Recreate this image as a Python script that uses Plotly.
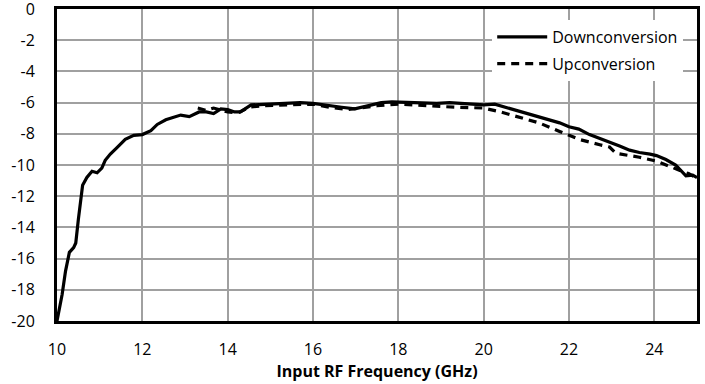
import plotly.graph_objects as go

down_freq = [10.0, 10.12, 10.2, 10.29, 10.39, 10.44, 10.5, 10.6, 10.7, 10.82, 10.94, 11.05, 11.13, 11.25,
             11.4, 11.6, 11.8, 12.0, 12.2, 12.35, 12.55, 12.8, 12.9, 13.1, 13.33, 13.5, 13.67, 13.84,
             14.0, 14.16, 14.3, 14.55, 15.0, 15.4, 15.7, 16.0, 16.35, 16.67, 16.98, 17.3, 17.6, 17.85,
             18.0, 18.3, 18.6, 18.9, 19.2, 19.5, 19.8, 20.0, 20.26, 20.57, 20.87, 21.17, 21.47, 21.78,
             22.0, 22.23, 22.48, 22.72, 22.95, 23.2, 23.42, 23.65, 23.9, 24.05, 24.27, 24.5, 24.74,
             24.9, 25.0]
down_gain = [-20.0, -18.3, -16.8, -15.6, -15.3, -15.0, -13.5, -11.3, -10.8, -10.4, -10.5, -10.2, -9.7, -9.3,
             -8.9, -8.35, -8.1, -8.05, -7.8, -7.4, -7.1, -6.9, -6.8, -6.9, -6.6, -6.6, -6.7, -6.4,
             -6.45, -6.6, -6.6, -6.15, -6.1, -6.05, -6.0, -6.05, -6.2, -6.3, -6.4, -6.2, -6.0, -5.95,
             -5.97, -6.0, -6.05, -6.05, -6.0, -6.05, -6.1, -6.15, -6.1, -6.35, -6.55, -6.8, -7.05, -7.3,
             -7.55, -7.7, -8.05, -8.3, -8.5, -8.8, -9.05, -9.2, -9.3, -9.4, -9.65, -10.0, -10.7,
             -10.65, -10.8]

up_freq = [13.3, 13.5, 13.67, 13.85, 14.0, 14.25, 14.5, 14.8, 15.2, 15.6, 16.0, 16.4, 16.8, 17.1, 17.5,
           18.0, 18.5, 19.0, 19.4, 20.0, 20.4, 20.87, 21.3, 21.78, 22.23, 22.72, 22.95, 23.1, 23.35,
           23.65, 24.05, 24.43, 24.6, 24.8, 25.0]
up_gain = [-6.35, -6.5, -6.35, -6.5, -6.6, -6.65, -6.3, -6.2, -6.15, -6.1, -6.1, -6.3, -6.45, -6.35, -6.2,
           -6.1, -6.2, -6.25, -6.3, -6.35, -6.6, -6.95, -7.3, -7.85, -8.35, -8.7, -8.85, -9.25, -9.35,
           -9.5, -9.75, -10.2, -10.35, -10.55, -10.85]

x_ticks = [10, 12, 14, 16, 18, 20, 22, 24]
x_tick_labels = ["10", "12", "14", "16", "18", "20", "22", "24"]
y_ticks = [0, -2, -4, -6, -8, -10, -12, -14, -16, -18, -20]
y_tick_labels = ["0", "-2", "-4", "-6", "-8", "-10", "-12", "-14", "-16", "-18", "-20"]

fig = go.Figure()
fig.add_trace(go.Scatter(x=down_freq, y=down_gain, mode="lines", name="Downconversion",
                         legendgroup="a", line=dict(color="black", width=3.2)))
fig.add_trace(go.Scatter(x=up_freq, y=up_gain, mode="lines", name="Upconversion",
                         legendgroup="b", line=dict(color="black", width=3.2, dash="8px,6px")))

font_family = "Open Sans, Noto Sans, sans-serif"
fig.update_layout(
    width=705, height=384,
    margin=dict(l=57, r=8, t=9, b=63),
    paper_bgcolor="white", plot_bgcolor="white",
    font=dict(family=font_family, size=16, color="black"),
    showlegend=True,
    legend=dict(x=0.68, y=0.965, xanchor="left", yanchor="top", bgcolor="white",
                font=dict(size=16, family=font_family), borderwidth=0,
                itemwidth=50, tracegroupgap=3),
    xaxis=dict(range=[10, 25], tickvals=x_ticks, ticktext=x_tick_labels, showgrid=True,
               gridcolor="#a0a0a0", gridwidth=1.5, automargin=False,
               showline=True, linecolor="black", linewidth=3, mirror=True, ticks="",
               zeroline=False, ticklabelstandoff=12, ticklabeloverflow="allow",
               title=dict(text="<b>Input RF Frequency (GHz)</b>", font=dict(size=16), standoff=6)),
    yaxis=dict(range=[-20, 0], tickvals=y_ticks, ticktext=y_tick_labels, showgrid=True,
               gridcolor="#a0a0a0", gridwidth=1.5, automargin=False,
               showline=True, linecolor="black", linewidth=3, mirror=True, ticks="",
               zeroline=False, ticklabelstandoff=16, ticklabeloverflow="allow"),
)

fig.write_html("out.html", config={"displayModeBar": False},
               post_script="document.body.style.margin='0';")
